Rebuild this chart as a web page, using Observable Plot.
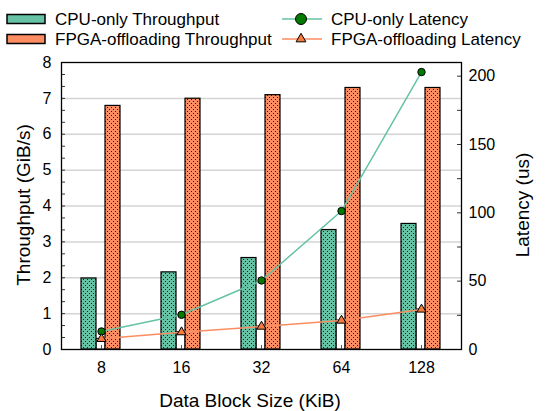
<!DOCTYPE html>
<html><head><meta charset="utf-8">
<script src="https://cdn.jsdelivr.net/npm/d3@7"></script>
<script src="https://cdn.jsdelivr.net/npm/@observablehq/plot@0.6"></script>
<style>body{margin:0;background:#fff} #chart{position:relative;width:546px;height:411px}</style>
</head><body><div id="chart"></div>
<script>
const sizes = ["8", "16", "32", "64", "128"];
const cpuThroughput = [1.98, 2.15, 2.55, 3.33, 3.50];
const fpgaThroughput = [6.79, 6.99, 7.09, 7.29, 7.29];
const cpuLatency = [13.2, 25.4, 50.5, 101.3, 203.0];
const fpgaLatency = [7.8, 12.7, 16.8, 21.2, 29.3];
const leftTickLabels = [0, 1, 2, 3, 4, 5, 6, 7, 8];
const rightTickLabels = [0, 50, 100, 150, 200];
const seriesNames = ["CPU-only Throughput", "FPGA-offloading Throughput", "CPU-only Latency", "FPGA-offloading Latency"];

const yMax = 8, latMax = 210, k = yMax / latMax;
const rows = sizes.map((s, i) => ({
  size: s, cpuT: cpuThroughput[i], fpgaT: fpgaThroughput[i],
  cpuL: cpuLatency[i] * k, fpgaL: fpgaLatency[i] * k
}));
const gridVals = leftTickLabels.filter(v => v > 0 && v < yMax);
const leftMinor = d3.range(0, yMax * 3 + 1).map(i => i / 3);
const rightMinor = d3.range(0, 201, 25).map(v => v * k);
const font = "'Liberation Sans', Arial, sans-serif";
const green = "#66c2a5", orange = "#fc8d62";

const W = 546, H = 411, mL = 61, mR = 85, mT = 62, mB = 62;
const innerW = W - mL - mR, innerH = H - mT - mB;

const plot = Plot.plot({
  width: W, height: H, marginLeft: mL, marginRight: mR, marginTop: mT, marginBottom: mB,
  style: {fontFamily: font, fontSize: "16px", color: "#000", background: "#fff"},
  x: {type: "band", domain: sizes, padding: 0, label: null},
  y: {domain: [0, yMax], label: null},
  marks: [
    Plot.ruleY(gridVals, {stroke: "#d4d4d4", strokeWidth: 1.5}),
    Plot.barY(rows, {x: "size", y: "fpgaL", fill: "white", stroke: "black", strokeWidth: 1, insetLeft: 35, insetRight: 36}),
    Plot.barY(rows, {x: "size", y: "cpuT", fill: "url(#patG)", stroke: "black", strokeWidth: 1.2, insetLeft: 20, insetRight: 45}),
    Plot.barY(rows, {x: "size", y: "fpgaT", fill: "url(#patO)", stroke: "black", strokeWidth: 1.2, insetLeft: 44, insetRight: 21}),
    Plot.line(rows, {x: "size", y: "cpuL", stroke: green, strokeWidth: 1.5}),
    Plot.line(rows, {x: "size", y: "fpgaL", stroke: orange, strokeWidth: 1.5}),
    Plot.dot(rows, {x: "size", y: "cpuL", r: 3.7, fill: "#007a00", stroke: "black", strokeWidth: 1}),
    Plot.dot(rows, {x: "size", y: "fpgaL", symbol: "triangle", r: 3.4, fill: "#f57c3e", stroke: "black", strokeWidth: 1}),
    Plot.ruleY(leftMinor, {insetRight: innerW - 4, stroke: "#333", strokeWidth: 1}),
    Plot.ruleY(rightMinor, {insetLeft: innerW - 4, stroke: "#333", strokeWidth: 1}),
    Plot.ruleX(sizes, {x: d => d, insetTop: innerH - 4, stroke: "#555", strokeWidth: 1}),
    Plot.frame({stroke: "black", strokeWidth: 1.3}),
    Plot.axisY(leftTickLabels, {anchor: "left", tickSize: 0, tickPadding: 10, label: null, fontSize: 16}),
    Plot.axisY(rightTickLabels.map(v => v * k), {anchor: "right", tickSize: 0, tickPadding: 7, label: null, fontSize: 16, tickFormat: d => Math.round(d / k)}),
    Plot.axisX(sizes, {anchor: "bottom", tickSize: 0, tickPadding: 12, label: null, fontSize: 16})
  ]
});

const svg = d3.select(plot);
const defs = svg.insert("defs", ":first-child");
function pat(id, color) {
  const p = defs.append("pattern").attr("id", id).attr("patternUnits", "userSpaceOnUse")
    .attr("width", 4).attr("height", 4);
  p.append("rect").attr("width", 4).attr("height", 4).attr("fill", color);
  p.append("rect").attr("x", 1).attr("y", 1).attr("width", 1).attr("height", 1).attr("fill", "#1a1a1a");
  p.append("rect").attr("x", 3).attr("y", 3).attr("width", 1).attr("height", 1).attr("fill", "#1a1a1a");
}
pat("patG", green);
pat("patO", orange);

// axis titles
svg.append("text").attr("transform", "translate(23,205) rotate(-90)")
  .attr("text-anchor", "middle").attr("dominant-baseline", "central")
  .style("font", "19px " + font).attr("fill", "#000").text("Throughput (GiB/s)");
svg.append("text").attr("transform", "translate(522,205) rotate(-90)")
  .attr("text-anchor", "middle").attr("dominant-baseline", "central")
  .style("font", "19px " + font).attr("fill", "#000").text("Latency (us)");
svg.append("text").attr("x", 250).attr("y", 400)
  .attr("text-anchor", "middle").attr("dominant-baseline", "central")
  .style("font", "19px " + font).attr("fill", "#000").text("Data Block Size (KiB)");

// legend
const lg = svg.append("g");
[[green, 19], [orange, 39]].forEach(([c, y], i) => {
  lg.append("rect").attr("x", 7).attr("y", y - 4.5).attr("width", 38).attr("height", 9)
    .attr("fill", c).attr("stroke", "black").attr("stroke-width", 1.5);
  lg.append("text").attr("x", 55).attr("y", y).attr("dominant-baseline", "central")
    .attr("text-anchor", "start")
    .style("font", "17px " + font).attr("fill", "#000").text(seriesNames[i]);
});
[[green, 19, "circle"], [orange, 39, "triangle"]].forEach(([c, y, s], i) => {
  lg.append("line").attr("x1", 282).attr("x2", 322).attr("y1", y).attr("y2", y)
    .attr("stroke", c).attr("stroke-width", 1.5);
  if (s === "circle") {
    lg.append("circle").attr("cx", 301).attr("cy", y).attr("r", 5.5)
      .attr("fill", "#007a00").attr("stroke", "black");
  } else {
    lg.append("path").attr("transform", `translate(301,${y})`)
      .attr("d", d3.symbol(d3.symbolTriangle, 42)())
      .attr("fill", "#f57c3e").attr("stroke", "black");
  }
  lg.append("text").attr("x", 331).attr("y", y).attr("dominant-baseline", "central")
    .attr("text-anchor", "start")
    .style("font", "17px " + font).attr("fill", "#000").text(seriesNames[i + 2]);
});

document.getElementById("chart").appendChild(plot);
</script>
</body></html>
